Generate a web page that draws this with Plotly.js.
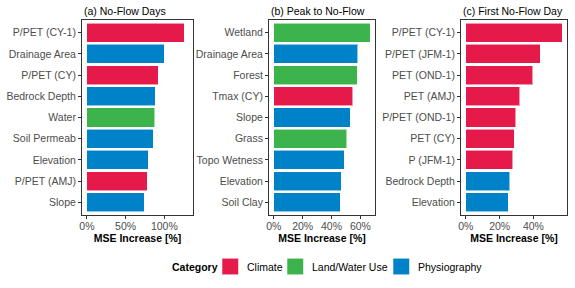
<!DOCTYPE html>
<html>
<head>
<meta charset="utf-8">
<script src="https://cdn.plot.ly/plotly-3.0.1.min.js"></script>
<style>html,body{margin:0;padding:0;background:#fff;}#chart{width:575px;height:288px;}</style>
</head>
<body>
<div id="chart"></div>
<script>
// ---- data ----
const categories = ['Climate', 'Land/Water Use', 'Physiography'];
const categoryColors = ['#e6194b', '#3cb44b', '#0082c8'];

const panelTitles = ['(a) No-Flow Days', '(b) Peak to No-Flow', '(c) First No-Flow Day'];

const labelsA = ['P/PET (CY-1)', 'Drainage Area', 'P/PET (CY)', 'Bedrock Depth', 'Water', 'Soil Permeab', 'Elevation', 'P/PET (AMJ)', 'Slope'];
const valuesA = [125.5, 100, 91.9, 88.4, 87.6, 85.4, 79.4, 78.1, 73.8];
const catsA = ['Climate', 'Physiography', 'Climate', 'Physiography', 'Land/Water Use', 'Physiography', 'Physiography', 'Climate', 'Physiography'];

const labelsB = ['Wetland', 'Drainage Area', 'Forest', 'Tmax (CY)', 'Slope', 'Grass', 'Topo Wetness', 'Elevation', 'Soil Clay'];
const valuesB = [66.8, 58.2, 57.7, 54.8, 53.0, 50.7, 48.9, 46.8, 46.2];
const catsB = ['Land/Water Use', 'Physiography', 'Land/Water Use', 'Climate', 'Physiography', 'Land/Water Use', 'Physiography', 'Physiography', 'Physiography'];

const labelsC = ['P/PET (CY-1)', 'P/PET (JFM-1)', 'PET (OND-1)', 'PET (AMJ)', 'P/PET (OND-1)', 'PET (CY)', 'P (JFM-1)', 'Bedrock Depth', 'Elevation'];
const valuesC = [57.0, 43.9, 39.6, 31.8, 29.5, 28.7, 27.7, 26.0, 25.0];
const catsC = ['Climate', 'Climate', 'Climate', 'Climate', 'Climate', 'Climate', 'Climate', 'Physiography', 'Physiography'];

const xTickStep = [50, 20, 20];
const xRanges = [[-6.3, 137], [-3.3, 70.1], [-2.85, 59.85]];

// ---- build ----
const panels = [
  {labels: labelsA, values: valuesA, cats: catsA},
  {labels: labelsB, values: valuesB, cats: catsB},
  {labels: labelsC, values: valuesC, cats: catsC}
];
const W = 575, H = 288;
const xDomPx = [[82, 193], [269, 375], [461, 567]];
const yDom = [1 - 215 / H, 1 - 20 / H];
const FONT = 'Liberation Sans, Arial, Helvetica, sans-serif';

const traces = [];
panels.forEach((p, i) => {
  const ax = i === 0 ? '' : String(i + 1);
  categories.forEach((cat, ci) => {
    const ys = [], xs = [];
    p.labels.forEach((lab, j) => { if (p.cats[j] === cat) { ys.push(lab); xs.push(p.values[j]); } });
    if (!ys.length) return;
    traces.push({
      type: 'bar', orientation: 'h', x: xs, y: ys,
      xaxis: 'x' + ax, yaxis: 'y' + ax,
      name: cat, showlegend: false,
      width: 0.9,
      marker: {color: categoryColors[ci], line: {color: 'rgba(255,255,255,0.55)', width: 1}}
    });
  });
});

const layout = {
  width: W, height: H,
  margin: {l: 0, r: 0, t: 0, b: 0},
  paper_bgcolor: '#ffffff', plot_bgcolor: '#ffffff',
  font: {family: FONT, size: 10, color: '#4d4d4d'},
  barmode: 'stack',
  showlegend: false,
  annotations: [],
  shapes: [],
  hovermode: false
};

panels.forEach((p, i) => {
  const ax = i === 0 ? '' : String(i + 1);
  const xa = 'xaxis' + ax, ya = 'yaxis' + ax;
  const dom = [xDomPx[i][0] / W, xDomPx[i][1] / W];
  layout[xa] = {
    domain: dom, anchor: 'y' + ax, range: xRanges[i],
    dtick: xTickStep[i], tick0: 0, ticksuffix: '%',
    showgrid: false, zeroline: false,
    showline: true, mirror: true, linecolor: '#333333', linewidth: 1,
    ticks: 'outside', ticklen: 3, tickcolor: '#333333', tickwidth: 1,
    tickfont: {size: 10.5, color: '#4d4d4d'}, ticklabelstandoff: -2,
    title: {text: '<b>MSE Increase [%]</b>', font: {size: 10.5, color: '#000'}, standoff: 0},
    automargin: false, fixedrange: true
  };
  layout[ya] = {
    domain: yDom, anchor: 'x' + ax,
    type: 'category', categoryorder: 'array', categoryarray: p.labels.slice().reverse(),
    range: [-0.6, p.labels.length - 0.4],
    showgrid: false, zeroline: false,
    showline: true, mirror: true, linecolor: '#333333', linewidth: 1,
    ticks: 'outside', ticklen: 3, tickcolor: '#333333', tickwidth: 1,
    tickfont: {size: 10.5, color: '#4d4d4d'},
    automargin: false, fixedrange: true
  };
  layout.annotations.push({
    text: panelTitles[i], xref: 'paper', yref: 'paper',
    x: dom[0], y: 1 - 11 / H, xanchor: 'left', yanchor: 'middle',
    showarrow: false, font: {size: 10.5, color: '#000'}
  });
});

// ---- legend (drawn as swatches + text in paper space) ----
const legY = 266.5;
const legTitleX = 170;
const swatchX = [222, 287, 393];
const swatch = 16.5;
layout.annotations.push({
  text: '<b>Category</b>', xref: 'paper', yref: 'paper',
  x: legTitleX / W, y: 1 - legY / H, xanchor: 'left', yanchor: 'middle',
  showarrow: false, font: {size: 10.5, color: '#000'}
});
categories.forEach((cat, ci) => {
  const x0 = swatchX[ci];
  layout.shapes.push({
    type: 'rect', xref: 'paper', yref: 'paper',
    x0: x0 / W, x1: (x0 + swatch) / W,
    y0: 1 - (legY + swatch / 2) / H, y1: 1 - (legY - swatch / 2) / H,
    fillcolor: categoryColors[ci], line: {color: 'rgba(255,255,255,0.55)', width: 1}
  });
  layout.annotations.push({
    text: cat, xref: 'paper', yref: 'paper',
    x: (x0 + swatch + 6) / W, y: 1 - legY / H, xanchor: 'left', yanchor: 'middle',
    showarrow: false, font: {size: 10.5, color: '#000'}
  });
});

Plotly.newPlot('chart', traces, layout, {staticPlot: true, displayModeBar: false});
</script>
</body>
</html>
